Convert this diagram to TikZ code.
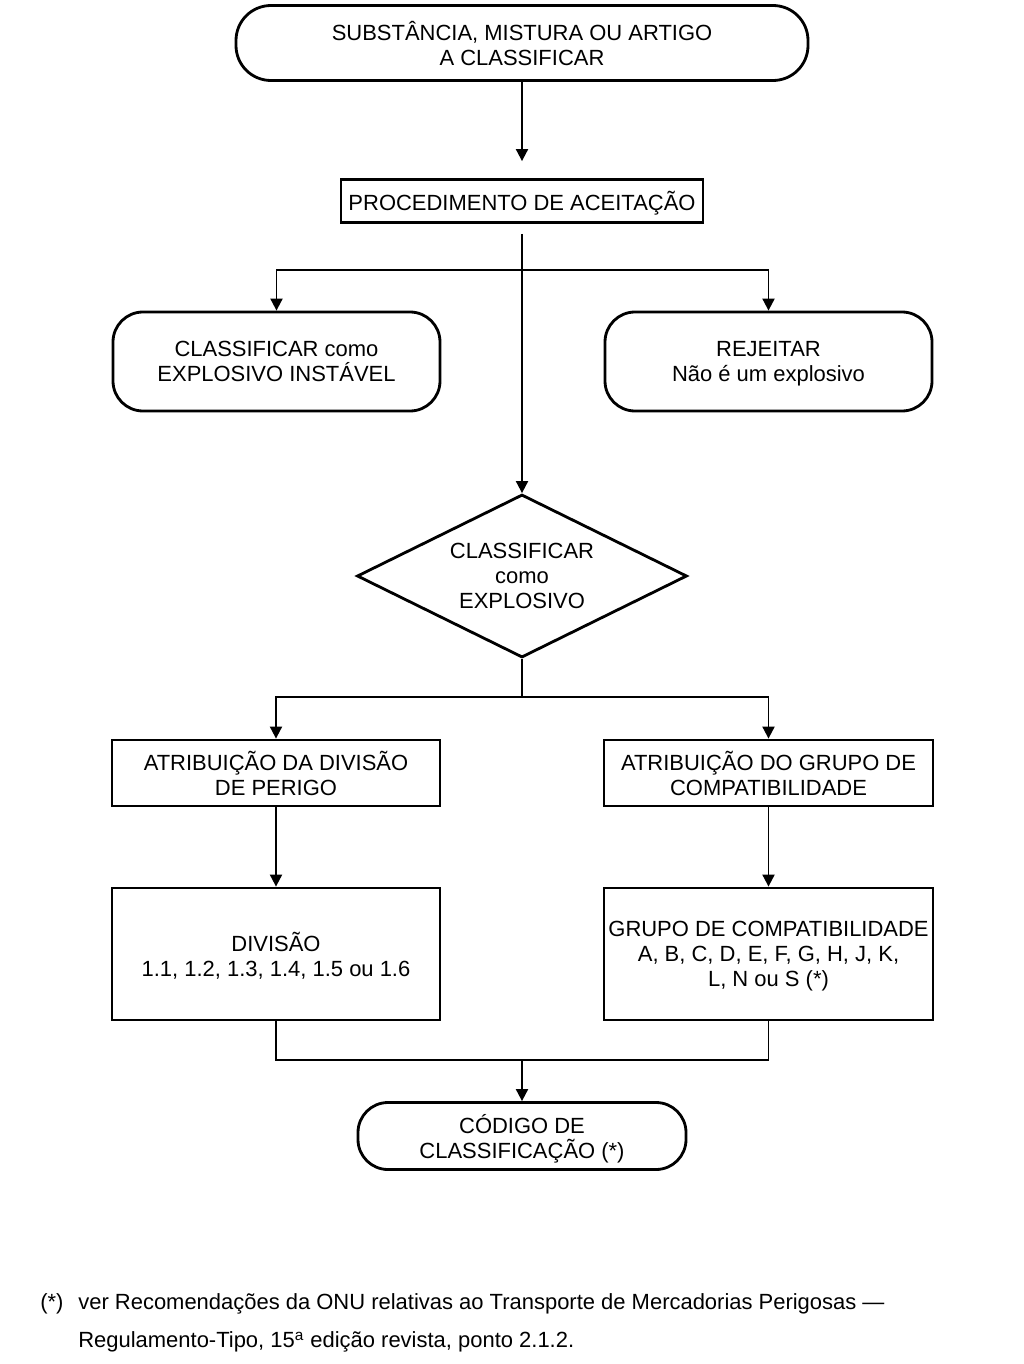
\documentclass[tikz,border=0pt]{standalone}
\usepackage{fontspec}
\setmainfont{Liberation Sans}
\usetikzlibrary{shapes.geometric,arrows.meta}

\tikzset{
  caixa/.style={draw, line width=1.6pt, align=center, inner sep=0pt,
    font=\fontsize{12.5}{14.2}\selectfont,
    execute at begin node=\rule{0pt}{11pt}, text depth=0pt},
  terminal/.style={caixa, rounded corners=0.6cm},
  losango/.style={caixa, diamond, aspect=2},
  seta/.style={line width=1.1pt, -{Triangle[length=0.24cm, width=0.24cm]}},
  linha/.style={line width=1.1pt},
  nota/.style={anchor=west, inner sep=0pt, font=\fontsize{12.5}{14.2}\selectfont},
}

\begin{document}
\begin{tikzpicture}
    \useasboundingbox (0,0) rectangle (20.46,-27.28);

    % INICI
    \node[terminal, minimum width=11.44cm, minimum height=1.5cm, rounded corners=0.7cm]
        (substancia) at (10.44,-0.86) {SUBSTÂNCIA, MISTURA OU ARTIGO\\A CLASSIFICAR};
    \node[caixa, minimum width=7.24cm, minimum height=0.86cm]
        (aceitacao) at (10.44,-4.02) {PROCEDIMENTO DE ACEITAÇÃO};
    \draw[seta, shorten >=0.34cm] (substancia) -- (aceitacao);

    % PRIMEIRA RAMIFICAÇÃO
    \node[terminal, minimum width=6.54cm, minimum height=1.98cm]
        (instavel) at (5.53,-7.23) {CLASSIFICAR como\\EXPLOSIVO INSTÁVEL};
    \node[terminal, minimum width=6.54cm, minimum height=1.98cm]
        (rejeitar) at (15.37,-7.23) {REJEITAR\\Não é um explosivo};
    \node[losango, minimum width=6.6cm, minimum height=3.26cm]
        (explosivo) at (10.44,-11.52) {CLASSIFICAR\\como\\EXPLOSIVO};
    \coordinate (ramo1) at (10.44,-5.4);
    \draw[seta, shorten <=0.2cm] (aceitacao) -- (explosivo);
    \draw[seta] (ramo1) -| (instavel);
    \draw[seta] (ramo1) -| (rejeitar);

    % ATRIBUIÇÃO (dois ramos)
    \node[caixa, minimum width=6.56cm, minimum height=1.32cm]
        (perigo) at (5.52,-15.46) {ATRIBUIÇÃO DA DIVISÃO\\DE PERIGO};
    \node[caixa, minimum width=6.58cm, minimum height=1.32cm]
        (compat) at (15.37,-15.46) {ATRIBUIÇÃO DO GRUPO DE\\COMPATIBILIDADE};
    \node[caixa, minimum width=6.56cm, minimum height=2.64cm]
        (divisao) at (5.52,-19.08) {DIVISÃO\\1.1, 1.2, 1.3, 1.4, 1.5 ou 1.6};
    \node[caixa, minimum width=6.58cm, minimum height=2.64cm]
        (grupo) at (15.37,-19.08) {GRUPO DE COMPATIBILIDADE\\A, B, C, D, E, F, G, H, J, K,\\L, N ou S (*)};
    \coordinate (ramo2) at (10.44,-13.94);
    \draw[linha] (explosivo.south) -- (ramo2);
    \draw[seta] (ramo2) -| (perigo);
    \draw[seta] (ramo2) -| (compat);
    \draw[seta] (perigo) -- (divisao);
    \draw[seta] (compat) -- (grupo);

    % FINAL
    \node[terminal, minimum width=6.56cm, minimum height=1.34cm]
        (codigo) at (10.44,-22.72) {CÓDIGO DE\\CLASSIFICAÇÃO (*)};
    \coordinate (juncao) at (10.44,-21.2);
    \draw[linha] (divisao.south) |- (juncao);
    \draw[linha] (grupo.south) |- (juncao);
    \draw[seta] (juncao) -- (codigo);

    % NOTA
    \node[nota] (asterisco) at (0.8,-26.08) {(*)};
    \node[nota] (nota1) at (1.56,-26.08)
        {ver Recomendações da ONU relativas ao Transporte de Mercadorias Perigosas —};
    \node[nota] (nota2) at (1.56,-26.84)
        {Regulamento-Tipo, 15\textsuperscript{a} edição revista, ponto 2.1.2.};
\end{tikzpicture}
\end{document}
